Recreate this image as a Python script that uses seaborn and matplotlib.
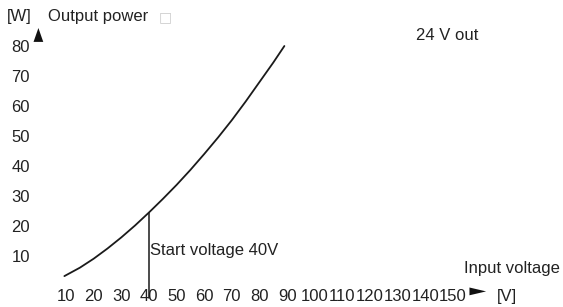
import seaborn as sns
import pandas as pd
import matplotlib.pyplot as plt

# ------------------------------- data -------------------------------
input_v = [9.4, 15, 20, 25, 30, 35, 40, 45, 50, 55, 60, 65, 70, 75, 80, 85, 89]
output_w = [3.3, 6.1, 9.1, 12.5, 16.2, 20.2, 24.5, 29.0, 33.7, 38.7, 44.0,
            49.5, 55.3, 61.5, 68.0, 74.5, 80.0]

x_ticks = [10, 20, 30, 40, 50, 60, 70, 80, 90, 100, 110, 120, 130, 140, 150]
y_ticks = [10, 20, 30, 40, 50, 60, 70, 80]

start_v = 40
start_w = 24.5

df = pd.DataFrame({"v": input_v, "w": output_w})

# ------------------------------- plot -------------------------------
sns.set_style("white")
plt.rcParams["font.family"] = ["Liberation Sans", "DejaVu Sans"]

fig = plt.figure(figsize=(5.63, 3.07), dpi=100)
ax = fig.add_axes([0.0682, 0.0684, 0.9327, 0.9283])

sns.lineplot(data=df, x="v", y="w", color="#1a1a1a", linewidth=1.3, ax=ax)
ax.plot([start_v, start_v], [start_w, -4], color="#1a1a1a", linewidth=1.1,
        clip_on=False)

ax.set_xlim(0, 190)
ax.set_ylim(0, 95)
sns.despine(ax=ax, left=True, bottom=True, top=True, right=True)

ax.set_xticks(x_ticks)
ax.set_xticklabels([str(t) for t in x_ticks], fontsize=12, color="#222222")
ax.set_yticks(y_ticks)
ax.set_yticklabels([str(t) for t in y_ticks], fontsize=12, color="#222222")
ax.tick_params(axis="both", length=0)
ax.tick_params(axis="x", pad=2)
ax.tick_params(axis="y", pad=6)
ax.set_xlabel("")
ax.set_ylabel("")

# arrows
ax.annotate("", xy=(0, 86), xytext=(0, 81.3),
            arrowprops=dict(arrowstyle="-|>,head_length=1.0,head_width=0.35",
                            color="#111111", lw=0, shrinkA=0, shrinkB=0),
            annotation_clip=False)
ax.annotate("", xy=(162, -1.8), xytext=(155.8, -1.8),
            arrowprops=dict(arrowstyle="-|>,head_length=1.2,head_width=0.28",
                            color="#111111", lw=0, shrinkA=0, shrinkB=0),
            annotation_clip=False)

# texts
fig.text(7 / 563, 1 - 17 / 307, "[W]", fontsize=12, va="center", color="#222222")
fig.text(48 / 563, 1 - 17 / 307, "Output power", fontsize=12, va="center",
         color="#222222")
fig.text(159 / 563, 1 - 17 / 307, "\u25a1", fontsize=10, va="center",
         color="#cccccc", family="DejaVu Sans")
fig.text(416 / 563, 1 - 36 / 307, "24 V out", fontsize=12, va="center",
         color="#222222")
ax.text(40.5, 12, "Start voltage 40V", fontsize=12, va="center", ha="left",
        color="#222222")
fig.text(464 / 563, 1 - 268 / 307, "Input voltage", fontsize=12, va="center",
         color="#222222")
fig.text(497 / 563, 1 - 296 / 307, "[V]", fontsize=12, va="center",
         color="#222222")

plt.savefig("out.png", dpi=100)
